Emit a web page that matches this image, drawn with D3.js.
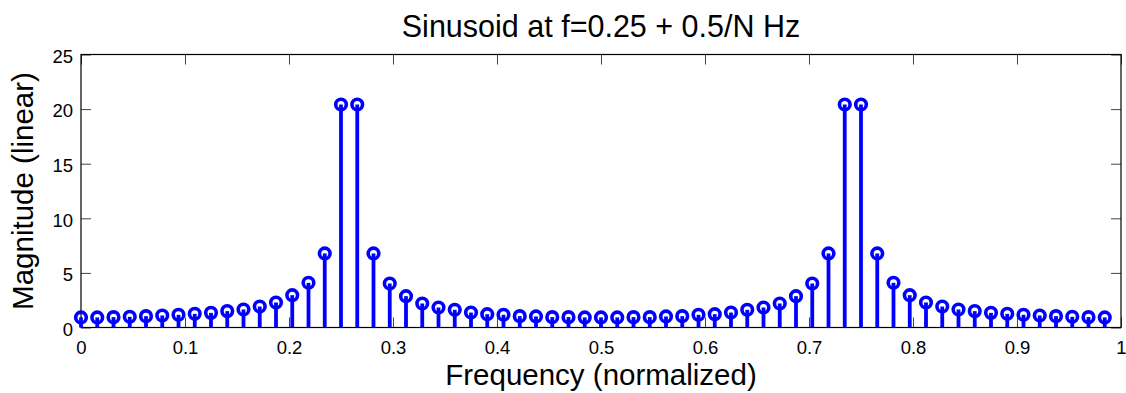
<!DOCTYPE html>
<html lang="en">

<head>
    <meta charset="UTF-8">
    <title>Sinusoid at f=0.25 + 0.5/N Hz</title>
    <script src="https://d3js.org/d3.v7.min.js"></script>
    <style>
        body { margin: 0; background: #fff; }
        svg { font-family: "Liberation Sans", Arial, Helvetica, sans-serif; }
        .tick line { stroke: #444; }
        .tick text { font-size: 18.5px; fill: #000; }
    </style>
</head>

<body>
    <div id="chart"></div>

    <script>
        // DFT length, bin k sits at frequency k / N
        const N = 64;

        // magnitude per bin (k = 0 .. 63)
        const magnitudes = [
            0.92, 0.92, 0.95, 0.98, 1.04, 1.10, 1.16, 1.25, 1.34, 1.50, 1.65, 1.92, 2.29, 2.96, 4.09, 6.78,
            20.42, 20.42, 6.78, 4.03, 2.87, 2.20, 1.83, 1.62, 1.37, 1.22, 1.16, 1.04, 1.01, 0.95, 0.95, 0.92,
            0.92, 0.92, 0.95, 0.95, 1.01, 1.04, 1.16, 1.22, 1.37, 1.62, 1.83, 2.20, 2.87, 4.03, 6.78, 20.42,
            20.42, 6.78, 4.09, 2.96, 2.29, 1.92, 1.65, 1.50, 1.34, 1.25, 1.16, 1.10, 1.04, 0.98, 0.95, 0.92
        ];

        const xTicks = [0, 0.1, 0.2, 0.3, 0.4, 0.5, 0.6, 0.7, 0.8, 0.9, 1];
        const yTicks = [0, 5, 10, 15, 20, 25];

        const titleText = "Sinusoid at f=0.25 + 0.5/N Hz";
        const xLabel = "Frequency (normalized)";
        const yLabel = "Magnitude (linear)";

        const data = magnitudes.map((m, k) => ({ f: k / N, m: m }));

        const W = 1126, H = 393;
        const margin = { top: 54.5, right: 5, bottom: 65.5, left: 81 };
        const width = W - margin.left - margin.right;
        const height = H - margin.top - margin.bottom;
        const blue = "#0000ff";

        const svg = d3.select("#chart")
            .append("svg")
            .attr("width", W)
            .attr("height", H);

        const g = svg.append("g")
            .attr("transform", "translate(" + margin.left + "," + margin.top + ")");

        const x = d3.scaleLinear().domain([0, 1]).range([0, width]);
        const y = d3.scaleLinear().domain([0, 25]).range([height, 0]);

        // ticks point inward on all four sides, matlab style
        g.append("g")
            .attr("transform", "translate(0," + height + ")")
            .call(d3.axisBottom(x).tickValues(xTicks).tickSize(-10).tickPadding(13).tickFormat(d3.format("")))
            .call(a => a.select(".domain").remove());

        g.append("g")
            .call(d3.axisTop(x).tickValues(xTicks).tickSize(-10).tickFormat(""))
            .call(a => a.select(".domain").remove());

        g.append("g")
            .call(d3.axisLeft(y).tickValues(yTicks).tickSize(-10).tickPadding(8))
            .call(a => a.select(".domain").remove())
            .selectAll("text").attr("dy", "0.42em");

        g.append("g")
            .attr("transform", "translate(" + width + ",0)")
            .call(d3.axisRight(y).tickValues(yTicks).tickSize(-10).tickFormat(""))
            .call(a => a.select(".domain").remove());

        // box
        g.append("rect")
            .attr("width", width)
            .attr("height", height)
            .attr("fill", "none")
            .attr("stroke", "#000")
            .attr("stroke-width", 1.2);

        // stems
        g.selectAll(".stem")
            .data(data)
            .enter().append("line")
            .attr("class", "stem")
            .attr("x1", d => x(d.f))
            .attr("x2", d => x(d.f))
            .attr("y1", y(0))
            .attr("y2", d => y(d.m))
            .attr("stroke", blue)
            .attr("stroke-width", 3.8);

        // open circle markers
        g.selectAll(".mark")
            .data(data)
            .enter().append("circle")
            .attr("class", "mark")
            .attr("cx", d => x(d.f))
            .attr("cy", d => y(d.m))
            .attr("r", 5.3)
            .attr("fill", "none")
            .attr("stroke", blue)
            .attr("stroke-width", 3.6);

        // title and axis labels
        svg.append("text")
            .attr("x", margin.left + width / 2)
            .attr("y", 36.5)
            .attr("text-anchor", "middle")
            .style("font-size", "30.5px")
            .text(titleText);

        svg.append("text")
            .attr("x", margin.left + width / 2)
            .attr("y", 385)
            .attr("text-anchor", "middle")
            .style("font-size", "29.5px")
            .text(xLabel);

        svg.append("text")
            .attr("transform", "translate(33," + (margin.top + height / 2) + ") rotate(-90)")
            .attr("text-anchor", "middle")
            .style("font-size", "29.5px")
            .text(yLabel);
    </script>
</body>

</html>
